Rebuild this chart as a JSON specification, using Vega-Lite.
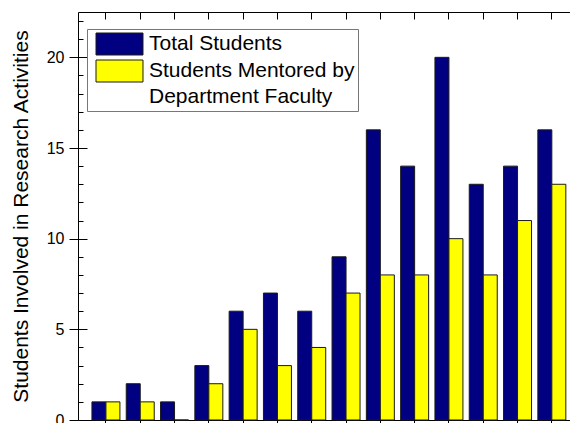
{
  "$schema": "https://vega.github.io/schema/vega-lite/v6.json",
  "width": 492,
  "height": 408,
  "autosize": {"type": "none"},
  "padding": {"left": 78, "top": 12, "right": 0, "bottom": 3},
  "background": "white",
  "config": {
    "view": {"stroke": null},
    "font": "Liberation Sans",
    "style": {"guide-label": {"lineHeight": 26}}
  },
  "data": {
    "values": [
      {"group": 1, "series": "Total Students", "value": 1},
      {"group": 1, "series": "Students Mentored by Department Faculty", "value": 1},
      {"group": 2, "series": "Total Students", "value": 2},
      {"group": 2, "series": "Students Mentored by Department Faculty", "value": 1},
      {"group": 3, "series": "Total Students", "value": 1},
      {"group": 3, "series": "Students Mentored by Department Faculty", "value": 0},
      {"group": 4, "series": "Total Students", "value": 3},
      {"group": 4, "series": "Students Mentored by Department Faculty", "value": 2},
      {"group": 5, "series": "Total Students", "value": 6},
      {"group": 5, "series": "Students Mentored by Department Faculty", "value": 5},
      {"group": 6, "series": "Total Students", "value": 7},
      {"group": 6, "series": "Students Mentored by Department Faculty", "value": 3},
      {"group": 7, "series": "Total Students", "value": 6},
      {"group": 7, "series": "Students Mentored by Department Faculty", "value": 4},
      {"group": 8, "series": "Total Students", "value": 9},
      {"group": 8, "series": "Students Mentored by Department Faculty", "value": 7},
      {"group": 9, "series": "Total Students", "value": 16},
      {"group": 9, "series": "Students Mentored by Department Faculty", "value": 8},
      {"group": 10, "series": "Total Students", "value": 14},
      {"group": 10, "series": "Students Mentored by Department Faculty", "value": 8},
      {"group": 11, "series": "Total Students", "value": 20},
      {"group": 11, "series": "Students Mentored by Department Faculty", "value": 10},
      {"group": 12, "series": "Total Students", "value": 13},
      {"group": 12, "series": "Students Mentored by Department Faculty", "value": 8},
      {"group": 13, "series": "Total Students", "value": 14},
      {"group": 13, "series": "Students Mentored by Department Faculty", "value": 11},
      {"group": 14, "series": "Total Students", "value": 16},
      {"group": 14, "series": "Students Mentored by Department Faculty", "value": 13}
    ]
  },
  "layer": [
    {
      "mark": {"type": "bar", "stroke": "#1a1a1a", "strokeWidth": 1},
      "encoding": {
        "x": {
          "field": "group",
          "type": "ordinal",
          "scale": {"paddingInner": 0.184, "paddingOuter": 0.264, "align": 0.77},
          "axis": {
            "orient": "bottom",
            "labels": false,
            "title": null,
            "tickSize": 6,
            "tickColor": "black",
            "domainColor": "black",
            "domainWidth": 1,
            "tickWidth": 1
          }
        },
        "xOffset": {
          "field": "series",
          "sort": ["Total Students", "Students Mentored by Department Faculty"]
        },
        "y": {
          "field": "value",
          "type": "quantitative",
          "scale": {"domain": [0, 22.5], "nice": false, "zero": true},
          "axis": {
            "values": [0, 5, 10, 15, 20],
            "tickSize": 9,
            "tickColor": "black",
            "tickWidth": 1,
            "domainColor": "black",
            "domainWidth": 1,
            "grid": false,
            "labelFont": "Liberation Sans",
            "labelFontSize": 16,
            "labelColor": "black",
            "labelPadding": 5,
            "minExtent": 0,
            "title": "Students Involved in Research Activities",
            "titleFont": "Liberation Sans",
            "titleFontSize": 21,
            "titleFontWeight": "normal",
            "titleColor": "black",
            "titlePadding": 15
          }
        },
        "color": {
          "field": "series",
          "type": "nominal",
          "scale": {
            "domain": ["Total Students", "Students Mentored by Department Faculty"],
            "range": ["#000080", "#FFFF00"]
          },
          "legend": {
            "orient": "none",
            "legendX": 9,
            "legendY": 17,
            "title": null,
            "symbolType": "M-2.136,-1H2.136V1H-2.136Z",
            "symbolSize": 484,
            "symbolOffset": 17.5,
            "symbolStrokeColor": "#1a1a1a",
            "symbolStrokeWidth": 1,
            "symbolOpacity": 1,
            "labelFont": "Liberation Sans",
            "labelFontSize": 21,
            "labelColor": "black",
            "labelOffset": 18,
            "labelLimit": 600,
            "labelExpr": "datum.label == 'Total Students' ? 'Total Students' : ['Students Mentored by', 'Department Faculty']",
            "rowPadding": 0,
            "padding": 3.5,
            "strokeColor": "#777777",
            "fillColor": "white",
            "cornerRadius": 0
          }
        }
      }
    },
    {
      "mark": {"type": "bar", "opacity": 0},
      "encoding": {
        "x": {
          "field": "group",
          "type": "ordinal",
          "axis": {
            "orient": "top",
            "labels": false,
            "title": null,
            "tickSize": -7,
            "tickColor": "black",
            "domainColor": "black",
            "domainWidth": 1,
            "tickWidth": 1
          }
        },
        "y": {
          "field": "value",
          "type": "quantitative",
          "axis": {
            "orient": "left",
            "values": [0, 1, 2, 3, 4, 5, 6, 7, 8, 9, 10, 11, 12, 13, 14, 15, 16, 17, 18, 19, 20, 21, 22],
            "labels": false,
            "title": null,
            "grid": false,
            "domain": false,
            "minExtent": 0,
            "tickColor": "black",
            "tickWidth": 1,
            "tickSize": {"expr": "datum.value % 5 === 0 ? -9 : -5"}
          }
        }
      }
    }
  ],
  "resolve": {"axis": {"x": "independent", "y": "independent"}}
}
